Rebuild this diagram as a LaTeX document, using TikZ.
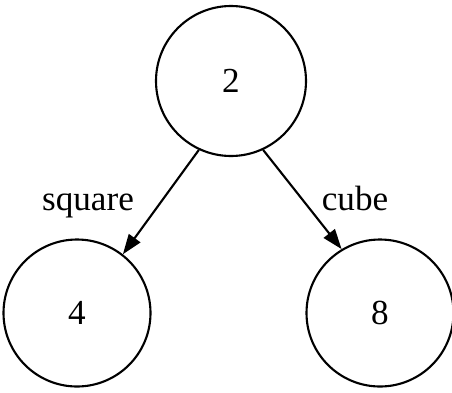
\documentclass[tikz,border=0pt]{standalone}
\usepackage{fontspec}
\setmainfont{Liberation Serif}
\usetikzlibrary{arrows.meta}

\begin{document}
\begin{tikzpicture}[
                        every node/.style={font=\fontsize{20}{24}\selectfont},
                        valnode/.style={circle, draw=black, line width=1.2pt, inner sep=0pt},
                        oparrow/.style={-{Triangle[length=0.4cm,width=0.28cm]}, line width=1.2pt}
                    ]
                        \useasboundingbox (0,0) rectangle (9.04,7.84);
                        \node[valnode, minimum size=3.0cm] (two) at (4.62,6.22) {2};
                        \node[valnode, minimum size=2.94cm] (four) at (1.54,1.58) {4};
                        \node[valnode, minimum size=2.94cm] (eight) at (7.60,1.58) {8};
                        \draw[oparrow] (two.245) -- (four.52);
                        \draw[oparrow] (two.295) -- (eight.121);
                        \node[anchor=base] (sq) at (1.76,3.64) {square};
                        \node[anchor=base] (cb) at (7.10,3.64) {cube};
                    \end{tikzpicture}
\end{document}
